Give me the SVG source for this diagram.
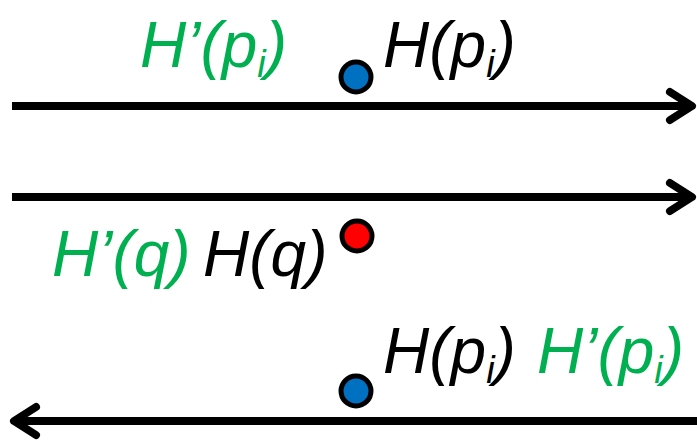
<svg xmlns="http://www.w3.org/2000/svg" width="697" height="440" viewBox="0 0 697 440">
<style>
.t{font-family:"Liberation Sans",Arial,sans-serif;font-style:italic;font-size:64px}
.g{fill:#00B050}
.k{fill:#000}
.sub{font-size:38px}
.ln{stroke:#000;stroke-width:8;fill:none}
.ah{stroke:#000;stroke-width:8;fill:none;stroke-linecap:round;stroke-linejoin:round}
.dot{stroke:#000;stroke-width:5}
</style>
<rect width="697" height="440" fill="#fff"/>
<g id="connectors">
<line class="ln" x1="12" y1="106" x2="690" y2="106"/>
<polyline class="ah" points="670,92 692,106 670,120"/>
<line class="ln" x1="12" y1="197" x2="690" y2="197"/>
<polyline class="ah" points="670,183 692,197 670,211"/>
<line class="ln" x1="697" y1="421" x2="18" y2="421"/>
<polyline class="ah" points="36,407 14,421 36,435"/>
</g>
<g id="node-p1">
<circle class="dot" cx="356" cy="77" r="15" fill="#0070C0"/>
<text class="t k" x="383" y="67">H(p<tspan class="sub" dy="10">i</tspan><tspan dy="-10">)</tspan></text>
<text class="t g" x="140" y="67">H’(p<tspan class="sub" dy="10">i</tspan><tspan dy="-10">)</tspan></text>
</g>
<g id="node-q">
<circle class="dot" cx="357" cy="236" r="15" fill="#FF0000"/>
<text class="t g" x="52" y="276">H’(q)</text>
<text class="t k" x="203" y="276">H(q)</text>
</g>
<g id="node-p2">
<circle class="dot" cx="356" cy="391" r="15" fill="#0070C0"/>
<text class="t k" x="383" y="373">H(p<tspan class="sub" dy="10">i</tspan><tspan dy="-10">)</tspan></text>
<text class="t g" x="537" y="373">H’(p<tspan class="sub" dy="10">i</tspan><tspan dy="-10">)</tspan></text>
</g>
</svg>
